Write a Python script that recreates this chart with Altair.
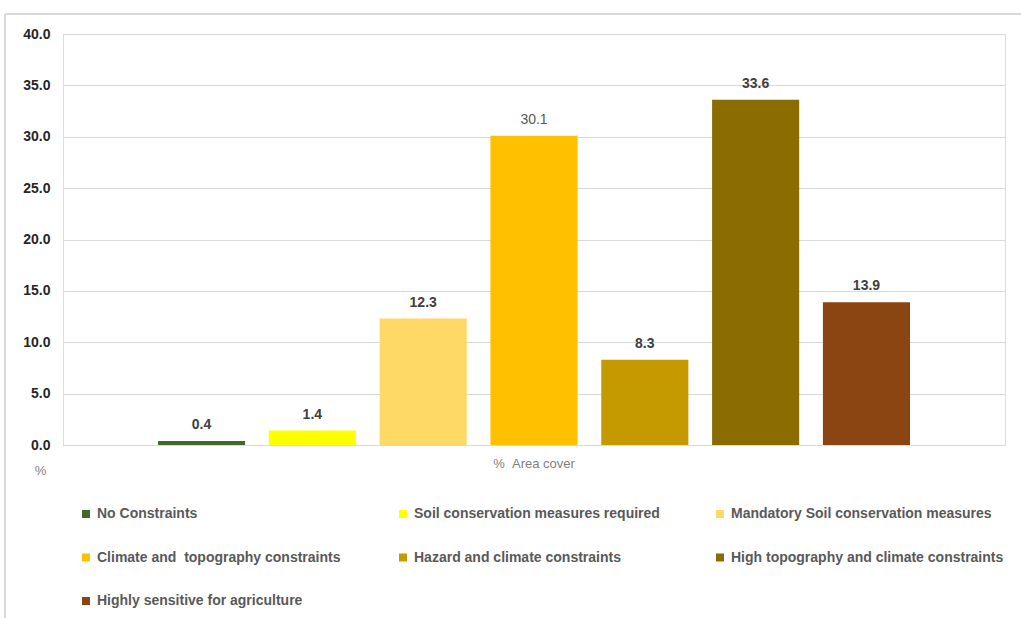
import altair as alt
import pandas as pd

categories = [
    "No Constraints",
    "Soil conservation measures required",
    "Mandatory Soil conservation measures",
    "Climate and  topography constraints",
    "Hazard and climate constraints",
    "High topography and climate constraints",
    "Highly sensitive for agriculture",
]
values = [0.4, 1.4, 12.3, 30.1, 8.3, 33.6, 13.9]
group = "%  Area cover"
colors = ["#43682B", "#FFFF00", "#FFD966", "#FFC000", "#C49A00", "#8B6C00", "#8B4513"]

df = pd.DataFrame({"cat": categories, "val": values, "grp": group})
df["lbl"] = df["val"].map(lambda v: f"{v:.1f}")
df["idx"] = range(len(categories))
# keep double spaces visible in SVG text
df["disp"] = df["cat"].str.replace("  ", " \u00a0")

FONT = "Liberation Sans"
color_scale = alt.Scale(domain=categories, range=colors)

x = alt.X("grp:N", scale=alt.Scale(paddingInner=0, paddingOuter=0.1263),
          axis=alt.Axis(title=None, labelColor="#7F7F7F", labelFontSize=13,
                        labelFont=FONT, ticks=False, domain=True, domainColor="#D9D9D9",
                        labelPadding=12, labelAngle=0,
                        labelExpr="replace(datum.label, '  ', ' \u00a0')"))
xo = alt.XOffset("cat:N", sort=categories,
                 scale=alt.Scale(paddingInner=0.214, paddingOuter=0))
y = alt.Y("val:Q", scale=alt.Scale(domain=[0, 40], nice=False),
          axis=alt.Axis(values=[0, 5, 10, 15, 20, 25, 30, 35, 40], format=".1f",
                        labelFontWeight="bold", labelColor="#262626", labelFontSize=14,
                        labelFont=FONT, labelPadding=13, ticks=False, domain=False,
                        gridColor="#D9D9D9", title="%", titleAngle=0,
                        titleFontWeight="normal", titleColor="#7F7F7F", titleFontSize=13,
                        titleFont=FONT, titleX=-23, titleY=436, titleAlign="center",
                        titleBaseline="middle"))

bars = alt.Chart(df).mark_bar().encode(
    x=x, xOffset=xo, y=y,
    color=alt.Color("cat:N", scale=color_scale, legend=None),
)

labels_bold = alt.Chart(df).transform_filter("datum.lbl != '30.1'").mark_text(
    baseline="bottom", dy=-9, fontSize=14, font=FONT, fontWeight="bold", color="#404040"
).encode(x=x, xOffset=xo, y=y, text="lbl:N")

labels_plain = alt.Chart(df).transform_filter("datum.lbl == '30.1'").mark_text(
    baseline="bottom", dy=-9, fontSize=14, font=FONT, fontWeight="normal", color="#595959"
).encode(x=x, xOffset=xo, y=y, text="lbl:N")

# legend (3 columns, row-major), positioned from entry index
leg = alt.Chart(df).transform_calculate(
    col="datum.idx % 3",
    row="floor(datum.idx / 3)",
    sx="23 + 317 * datum.col",
    tx="34 + 317 * datum.col",
    ly="480 + 43.5 * datum.row",
)
leg_sym = leg.mark_square(size=64, opacity=1).encode(
    x=alt.X("sx:Q", scale=None), y=alt.Y("ly:Q", scale=None),
    color=alt.Color("cat:N", scale=color_scale, legend=None),
)
leg_txt = leg.mark_text(align="left", baseline="middle", fontSize=14, font=FONT,
                        fontWeight="bold", color="#595959").encode(
    x=alt.X("tx:Q", scale=None), y=alt.Y("ly:Q", scale=None), text="disp:N",
)

frame = alt.Chart(df).mark_rect(fill=None, stroke="#D9D9D9", strokeWidth=1).encode(
    x=alt.value(-58), x2=alt.value(1000), y=alt.value(-20), y2=alt.value(620),
)

chart = alt.layer(frame, bars, labels_bold, labels_plain, leg_sym, leg_txt).properties(
    width=942, height=411,
    padding={"left": 63, "top": 34, "right": 16, "bottom": 173},
    autosize=alt.AutoSizeParams(type="none"),
).configure_view(stroke=None).configure(background="white")

chart.save("out.html", embed_options={"renderer": "svg", "actions": False})
